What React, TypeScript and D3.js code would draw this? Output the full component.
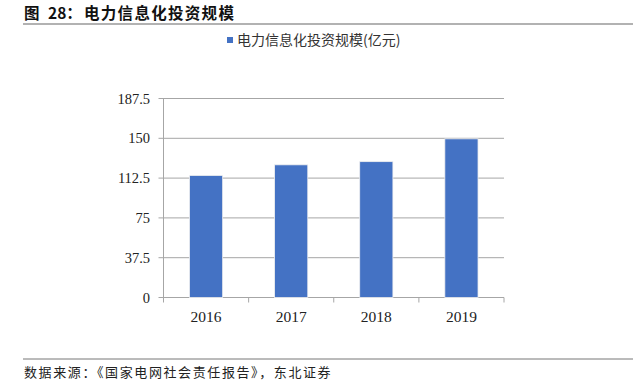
import React from "react";
import * as d3 from "d3";

const categories = ["2016", "2017", "2018", "2019"];
const values = [115, 125, 128, 149.5];
const yTicks = [0, 37.5, 75, 112.5, 150, 187.5];
const titleText = "电力信息化投资规模";
const legendLabel = "电力信息化投资规模(亿元)";
const source = "数据来源：《国家电网社会责任报告》，东北证券";

export default function App() {
  const W = 633, H = 387;
  const left = 163.5, right = 504, top = 98.5, bottom = 297.5;
  const x = d3.scaleBand<string>().domain(categories).range([left, right]).paddingInner(0.61).paddingOuter(0.305);
  const xb = d3.scaleBand<string>().domain(categories).range([left, right]);
  const y = d3.scaleLinear().domain([0, 187.5]).range([bottom, top]);
  const grid = "#a6a6a6";
  const serif = "'Liberation Serif', serif";
  return (
    <svg width={W} height={H} style={{ position: "absolute", left: 0, top: 0, background: "#fff" }}>
      <text x={24} y={19} fontSize={15.5} fontWeight="bold" fontFamily="'Noto Sans CJK SC', sans-serif" fill="#111">
        <tspan>图</tspan>
        <tspan x={48}>28：</tspan>
        <tspan x={84} letterSpacing={1.3}>{titleText}</tspan>
      </text>
      <line x1={23} x2={633} y1={24} y2={24} stroke="#666" strokeWidth={1.2} />
      <rect x={227} y={37} width={6} height={6} fill="#4472C4" />
      <text x={237} y={45} fontSize={14} fontFamily="'Noto Sans CJK SC', 'Noto Sans', sans-serif" fill="#333">{legendLabel}</text>
      {yTicks.map((t) => (
        <g key={t}>
          <line x1={left - 5} x2={right} y1={y(t)} y2={y(t)} stroke={grid} strokeWidth={1} />
          <text x={150} y={y(t)} dy="0.35em" textAnchor="end" fontSize={14.5} fontFamily={serif} fill="#222">{t}</text>
        </g>
      ))}
      <line x1={left} x2={left} y1={top} y2={bottom} stroke={grid} strokeWidth={1} />
      {categories.map((c, i) => (
        <g key={c}>
          <line x1={xb(c) as number} x2={xb(c) as number} y1={bottom} y2={bottom + 5} stroke={grid} />
          {i === categories.length - 1 && (
            <line x1={right} x2={right} y1={bottom} y2={bottom + 5} stroke={grid} />
          )}
          <text x={(xb(c) as number) + xb.bandwidth() / 2} y={322} textAnchor="middle" fontSize={15.5} fontFamily={serif} fill="#222">{c}</text>
        </g>
      ))}
      {categories.map((c, i) => (
        <rect key={c} x={x(c)} y={y(values[i])} width={x.bandwidth()} height={bottom - y(values[i])} fill="#4472C4" stroke="#f0f0f0" strokeWidth={0.8} />
      ))}
      <line x1={23} x2={633} y1={359} y2={359} stroke="#777" strokeWidth={1} />
      <text x={24} y={377} fontSize={13} letterSpacing={1.6} fontFamily="'Noto Sans CJK SC', serif" fill="#222">{source}</text>
    </svg>
  );
}
